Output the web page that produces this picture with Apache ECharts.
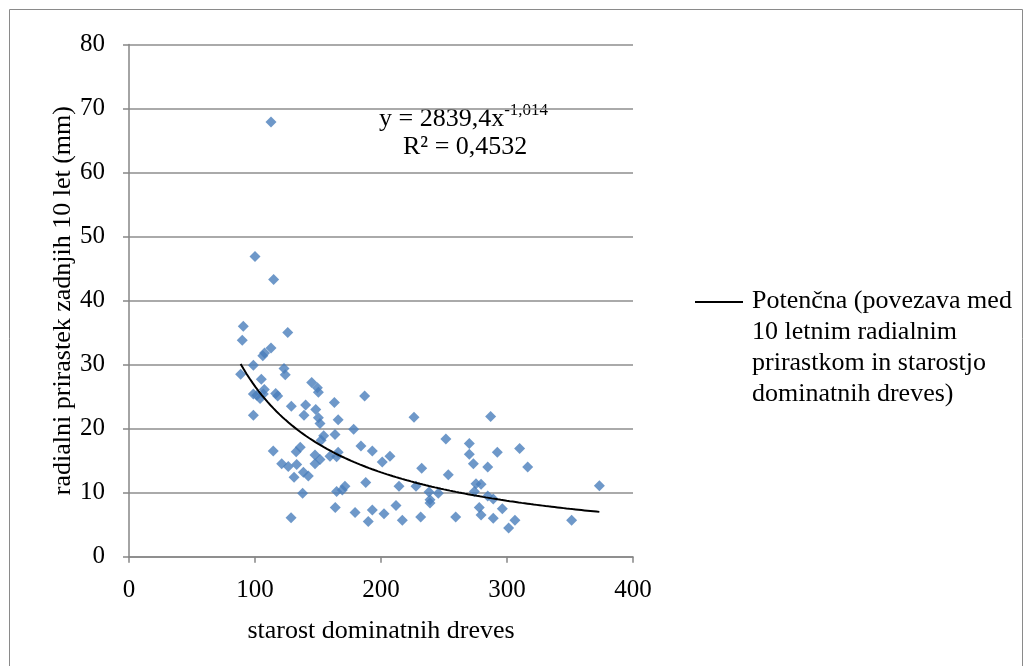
<!DOCTYPE html>
<html>
<head>
<meta charset="utf-8">
<script src="https://cdn.jsdelivr.net/npm/echarts@6/dist/echarts.min.js"></script>
<style>
html,body{margin:0;padding:0;background:#fff;}
#chart{width:1032px;height:666px;}
</style>
</head>
<body>
<div id="chart"></div>
<script>
// Age of dominant trees (x) and 10-year radial increment in mm (y)
const ageValues = [
  90.7, 89.9, 126, 112.7, 106.2, 107.6, 98.7, 88.6, 123, 124,
  105, 145, 149.5, 150.3, 98.7, 107.4, 104, 101.5, 116.4, 118,
  106.6, 128.8, 140.2, 148.2, 163, 98.7, 138.9, 150.3, 151.6, 166,
  152.5, 154.5, 163.5, 114.5, 132.7, 135.9, 147.6, 151.6, 147.6, 159.5,
  164.8, 166, 121.2, 126.4, 133.1, 138.4, 142.3, 131, 137.8, 164.8,
  163.7, 128.6, 187, 178.3, 226.2, 184.1, 193.1, 207.1, 201, 232.3,
  187.9, 171.4, 169.3, 214.3, 227.8, 238.1, 245.5, 238.9, 238.9, 179.4,
  193.1, 202.4, 211.9, 189.9, 216.9, 231.5, 251.5, 287, 270.1, 270.1,
  273.3, 292.3, 310, 284.7, 316.4, 253.4, 275.4, 279.4, 274.1, 284.7,
  289.1, 278, 279.4, 296.3, 259.3, 289.1, 306.3, 301.3, 373.3, 351.3,
  112.7, 100, 114.8
];
const incrementValues = [
  36.0, 33.8, 35.0, 32.6, 31.4, 31.8, 29.9, 28.5, 29.4, 28.4,
  27.7, 27.2, 26.4, 25.7, 25.4, 26.1, 24.7, 25.2, 25.5, 25.1,
  25.4, 23.5, 23.7, 23.0, 24.1, 22.1, 22.1, 21.7, 20.8, 21.4,
  18.2, 18.9, 19.1, 16.5, 16.4, 17.1, 15.9, 15.2, 14.5, 15.7,
  15.6, 16.3, 14.5, 14.1, 14.4, 13.2, 12.6, 12.4, 9.9, 10.2,
  7.7, 6.1, 25.1, 19.9, 21.8, 17.3, 16.5, 15.7, 14.8, 13.8,
  11.6, 11.0, 10.4, 11.0, 11.0, 10.1, 9.9, 8.9, 8.4, 6.9,
  7.3, 6.7, 8.0, 5.5, 5.7, 6.2, 18.4, 21.9, 17.7, 16.0,
  14.5, 16.3, 16.9, 14.0, 14.0, 12.8, 11.4, 11.3, 10.2, 9.5,
  9.0, 7.7, 6.5, 7.5, 6.2, 6.0, 5.7, 4.5, 11.1, 5.7,
  67.9, 46.9, 43.3
];
// Power trendline y = a * x^b (from the chart's equation)
const trendCoef = 2839.4;
const trendExp = -1.014;
const equationText = ['y = 2839,4x', '-1,014', 'R² = 0,4532'];
const xAxisTicks = [0, 100, 200, 300, 400];
const yAxisTicks = [0, 10, 20, 30, 40, 50, 60, 70, 80];
const xAxisTitle = 'starost dominatnih dreves';
const yAxisTitle = 'radialni prirastek zadnjih 10 let (mm)';
const legendLines = ['Potenčna (povezava med', '10 letnim radialnim', 'prirastkom in starostjo', 'dominatnih dreves)'];

const scatterData = ageValues.map((x, i) => [x, incrementValues[i]]);
const xMin = Math.min(...ageValues), xMax = Math.max(...ageValues);
const trendData = [];
const steps = 120;
for (let i = 0; i <= steps; i++) {
  const x = xMin + (xMax - xMin) * i / steps;
  trendData.push([x, trendCoef * Math.pow(x, trendExp)]);
}

const font = 'Liberation Serif';
const chart = echarts.init(document.getElementById('chart'), null, {renderer: 'canvas'});
chart.setOption({
  animation: false,
  backgroundColor: '#fff',
  grid: {left: 129, top: 44.5, right: 399, bottom: 109.3, containLabel: false},
  xAxis: {
    type: 'value', min: xAxisTicks[0], max: xAxisTicks[xAxisTicks.length - 1], interval: 100,
    name: xAxisTitle, nameLocation: 'middle', nameGap: 61,
    nameTextStyle: {fontFamily: font, fontSize: 26, color: '#000'},
    axisLine: {show: true, lineStyle: {color: '#868686', width: 1.5}},
    axisTick: {show: true, inside: false, length: 6, lineStyle: {color: '#868686', width: 1.5}},
    axisLabel: {fontFamily: font, fontSize: 25, color: '#000', margin: 21},
    splitLine: {show: false}
  },
  yAxis: {
    type: 'value', min: yAxisTicks[0], max: yAxisTicks[yAxisTicks.length - 1], interval: 10,
    name: yAxisTitle, nameLocation: 'middle', nameGap: 46, nameRotate: 90,
    nameTextStyle: {fontFamily: font, fontSize: 26, color: '#000'},
    axisLine: {show: true, lineStyle: {color: '#868686', width: 1.5}},
    axisTick: {show: true, inside: false, length: 6, lineStyle: {color: '#868686', width: 1.5}},
    axisLabel: {fontFamily: font, fontSize: 25, color: '#000', margin: 24},
    splitLine: {show: true, lineStyle: {color: '#8e8e8e', width: 1.5}}
  },
  series: [
    {
      type: 'scatter', name: 'data', data: scatterData,
      symbol: 'diamond', symbolSize: 11,
      itemStyle: {color: '#4a7ebb'}, z: 2
    },
    {
      type: 'line', name: 'Potenčna', data: trendData,
      showSymbol: false, symbol: 'none', smooth: false,
      lineStyle: {color: '#000', width: 2}, z: 3
    }
  ],
  graphic: [
    {type: 'rect', shape: {x: 9.5, y: 9.5, width: 1013, height: 700}, style: {fill: 'none', stroke: '#8a8a8a', lineWidth: 1}, silent: true},
    {
      type: 'text', left: 379, top: 102,
      style: {
        text: '{n|' + equationText[0] + '}{s|' + equationText[1] + '}\n{r|' + equationText[2] + '}',
        fontFamily: font, fontSize: 26, fill: '#000',
        rich: {
          n: {fontFamily: font, fontSize: 26, lineHeight: 30, verticalAlign: 'bottom'},
          s: {fontFamily: font, fontSize: 17, lineHeight: 30, verticalAlign: 'top'},
          r: {fontFamily: font, fontSize: 26, lineHeight: 30, padding: [0, 0, 0, 24]}
        }
      }
    },
    {type: 'line', shape: {x1: 695, y1: 302, x2: 743, y2: 302}, style: {stroke: '#000', lineWidth: 2}},
    {
      type: 'text', left: 752, top: 286,
      style: {text: legendLines.join('\n'), fontFamily: font, fontSize: 26, lineHeight: 31, fill: '#000'}
    }
  ]
});
</script>
</body>
</html>
